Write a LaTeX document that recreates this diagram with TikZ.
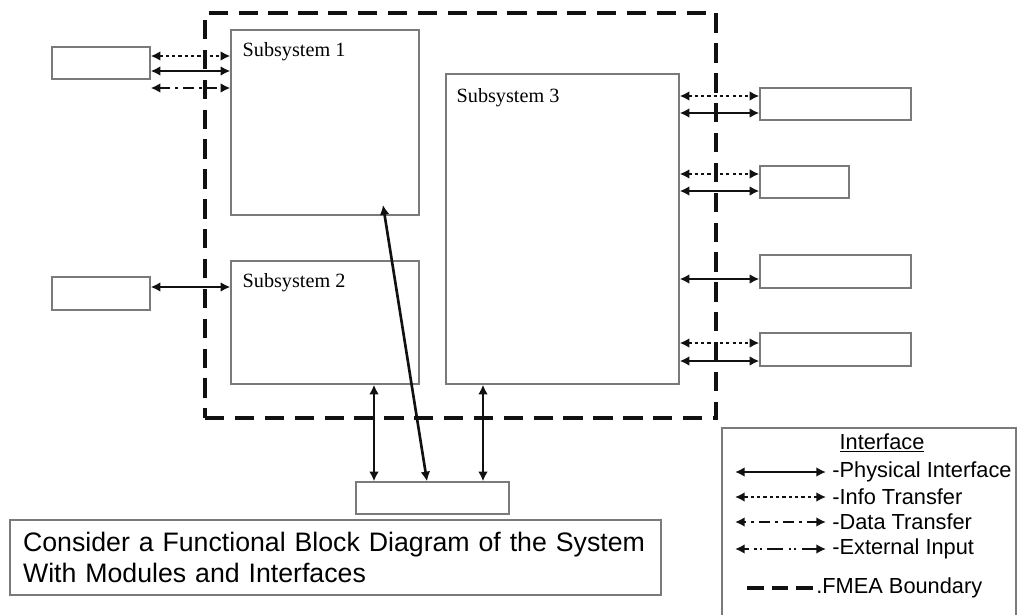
\documentclass[tikz,border=0pt]{standalone}
\usepackage{fontspec}
\setmainfont{Liberation Serif}
\setsansfont{Liberation Sans}
\usetikzlibrary{arrows.meta,positioning}
\definecolor{Frame}{HTML}{7A7A7A}
\definecolor{Ink}{HTML}{111111}
\tikzset{block/.style={draw=Frame,line width=.8pt,fill=white,inner sep=0pt},sublabel/.style={font=\fontsize{11.5}{13}\selectfont,inner sep=0pt},phys/.style={{Latex[length=5.5pt,width=5.5pt]}-{Latex[length=5.5pt,width=5.5pt]},line width=1.5pt,draw=Ink},info/.style={phys,dash pattern=on 1.8pt off 1.8pt},datax/.style={phys,dash pattern=on 6pt off 3pt on 1.5pt off 3pt},extin/.style={phys,dash pattern=on 9pt off 3pt on 1.2pt off 2pt on 1.2pt off 3pt},fmea/.style={draw=Ink,line width=2.4pt,dash pattern=on 11pt off 6pt},legtext/.style={font=\sffamily\fontsize{12.4}{14}\selectfont,anchor=west,inner sep=0pt}}

\begin{document}
\begin{tikzpicture}[x=.02cm,y=-.02cm]
        \useasboundingbox (0,0) rectangle (1024,615);
        % boundary
        \node[fmea,inner sep=0pt,minimum width=10.22cm,minimum height=8.1cm] (fmea) at (460.5,215.5) {};
        % subsystems
        \node[block,minimum width=3.76cm,minimum height=3.7cm] (sub1) at (325,122.5) {};
        \node[block,minimum width=3.76cm,minimum height=2.46cm] (sub2) at (325,322.5) {};
        \node[block,minimum width=4.66cm,minimum height=6.2cm] (sub3) at (562.5,229) {};
        \node[sublabel,below right=.26cm and .24cm of sub1.north west] (sub1lbl) {Subsystem 1};
        \node[sublabel,below right=.26cm and .24cm of sub2.north west] (sub2lbl) {Subsystem 2};
        \node[sublabel,below right=.3cm and .22cm of sub3.north west] (sub3lbl) {Subsystem 3};
        % outside blocks
        \node[block,minimum width=1.96cm,minimum height=.64cm] (extA) at (101,63) {};
        \node[block,minimum width=1.96cm,minimum height=.66cm] (extB) at (101,293.5) {};
        \node[block,minimum width=3.02cm,minimum height=.64cm] (ext1) at (835.5,104) {};
        \node[block,minimum width=1.78cm,minimum height=.64cm] (ext2) at (804.5,182) {};
        \node[block,minimum width=3.02cm,minimum height=.66cm] (ext3) at (835.5,271.5) {};
        \node[block,minimum width=3.02cm,minimum height=.66cm] (ext4) at (835.5,349.5) {};
        \node[block,minimum width=3.06cm,minimum height=.64cm] (extC) at (432.5,498) {};
        % interfaces
        \draw[info](extA.east |- 0,56)--(sub1.west |- 0,56);
        \draw[phys](extA.east |- 0,71)--(sub1.west |- 0,71);
        \draw[datax](extA.east |- 0,88)--(sub1.west |- 0,88);
        \draw[phys](extB.east |- 0,287)--(sub2.west |- 0,287);
        \draw[info](sub3.east |- 0,96)--(ext1.west |- 0,96);
        \draw[phys](sub3.east |- 0,113)--(ext1.west |- 0,113);
        \draw[info](sub3.east |- 0,174)--(ext2.west |- 0,174);
        \draw[phys](sub3.east |- 0,191)--(ext2.west |- 0,191);
        \draw[phys](sub3.east |- 0,279)--(ext3.west |- 0,279);
        \draw[info](sub3.east |- 0,343)--(ext4.west |- 0,343);
        \draw[phys](sub3.east |- 0,361)--(ext4.west |- 0,361);
        \draw[phys](sub2.south -| 374,0)--(extC.north -| 374,0);
        \draw[phys](sub3.south -| 483,0)--(extC.north -| 483,0);
        \coordinate (s1tip) at (383,205);
        \draw[phys](extC.north -| 427,0)--(s1tip);
        % caption
        \node[block,inner xsep=.26cm,minimum width=13.02cm,minimum height=1.5cm,text width=12.5cm,align=left,font=\sffamily\fontsize{15.2}{17.5}\selectfont] (caption) at (335.5,557.5) {Consider a Functional Block Diagram of the System\\With Modules and Interfaces};
        % legend
        \node[block,minimum width=5.88cm,minimum height=3.94cm] (legend) at (869,526.5) {};
        \node[legtext,anchor=center] (legtitle) at (882,443) {\underline{Interface}};
        \node[legtext] (lgphys) at (832,472) {-Physical Interface};
        \node[legtext] (lginfo) at (832,497) {-Info Transfer};
        \node[legtext] (lgdata) at (832,522) {-Data Transfer};
        \node[legtext] (lgext) at (832,549) {-External Input};
        \node[legtext] (lgfmea) at (816,588) {.FMEA Boundary};
        \draw[phys]([xshift=-.12cm]lgphys.west)--++(-91,0);
        \draw[info,line width=1pt]([xshift=-.12cm]lginfo.west)--++(-91,0);
        \draw[datax]([xshift=-.12cm]lgdata.west)--++(-91,0);
        \draw[extin]([xshift=-.12cm]lgext.west)--++(-91,0);
        \draw[fmea,line width=2pt,dash pattern=on 9.5pt off 4.5pt]([xshift=-.06cm]lgfmea.west)--++(-70,0);
      \end{tikzpicture}
\end{document}
